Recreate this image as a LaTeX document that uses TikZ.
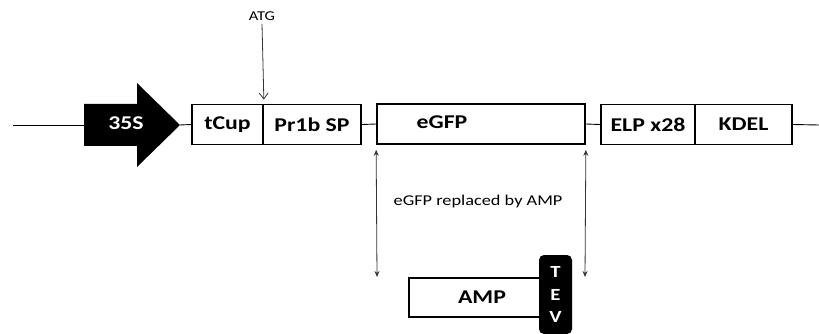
\documentclass[tikz,border=0pt]{standalone}
\usepackage{fontspec}
\setmainfont{Carlito}[FakeStretch=1.22]
\usetikzlibrary{arrows.meta}
\tikzset{
  part/.style={draw, line width=1.7pt, fill=white, minimum height=40pt, inner sep=0pt, font=\fontsize{19.5}{21}\selectfont\bfseries},
  dna/.style={line width=0.9pt},
  pointer/.style={line width=0.8pt, draw=black!80, -{Straight Barb[length=6pt,width=9pt]}},
  span/.style={line width=0.8pt, draw=black!80, {Stealth[length=6pt,width=5pt]}-{Stealth[length=6pt,width=5pt]}},
}
\begin{document}
\begin{tikzpicture}[x=1pt,y=-1pt]
\useasboundingbox (0,0) rectangle (819,334);
% promoter
\coordinate (start) at (13,125);
\coordinate (p35tail) at (84,125);
\coordinate (p35tip) at (180,125);
\coordinate (stop) at (819,125);
\fill (84,104) -- (137,104) -- (137,83) -- (p35tip) -- (137,167) -- (137,146) -- (84,146) -- cycle;
\node[text=white, font=\fontsize{19.5}{21}\selectfont\bfseries] (p35) at (126,123) {35S};
% cassette
\node[part, minimum width=71pt] (tcup) at (227.5,124.5) {tCup};
\node[part, minimum width=98pt] (pr1b) at (312,124.5) {Pr1b SP};
\node[part, minimum width=208pt] (egfp) at (481,124) {};
\node[font=\fontsize{19.5}{21}\selectfont\bfseries] (egfptext) at (442,122) {eGFP};
\node[part, minimum width=94pt] (elp) at (648,124.5) {ELP x28};
\node[part, minimum width=97pt] (kdel) at (743.5,124.5) {KDEL};
\draw[dna] (start) -- (p35tail);
\draw[dna] (p35tip) -- (tcup.west);
\draw[dna] (pr1b.east) -- (egfp.west);
\draw[dna] (egfp.east) -- (elp.west);
\draw[dna] (kdel.east) -- (stop);
% start codon
\node[font=\fontsize{13.5}{15}\selectfont] (atg) at (262,16) {ATG};
\draw[pointer] (atg.south) -- ([yshift=4pt]tcup.north east);
% replacement
\node[font=\fontsize{15}{17}\selectfont] (repl) at (478,202) {eGFP replaced by AMP};
\coordinate (spanl) at (377,277);
\coordinate (spanr) at (585,277);
\draw[span] ([yshift=-5pt]egfp.south west) -- (spanl);
\draw[span] ([yshift=-5pt]egfp.south east) -- (spanr);
\node[part, minimum width=146pt, minimum height=39pt] (amp) at (482,297.5) {AMP};
\node[fill=black, rounded corners=5pt, minimum width=33pt, minimum height=79pt, inner sep=0pt, text=white, align=center, font=\fontsize{17}{22.5}\selectfont\bfseries] (tev) at (555.5,294.5) {T\\E\\V};
\end{tikzpicture}
\end{document}
